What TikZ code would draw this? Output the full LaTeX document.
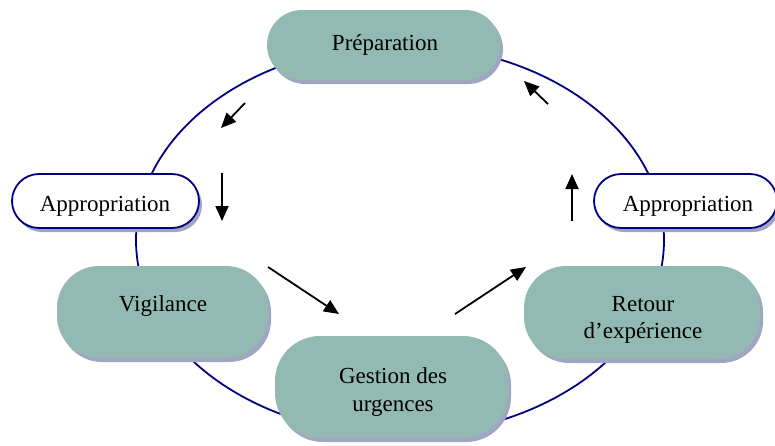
\documentclass[tikz,border=0pt]{standalone}
\usepackage{fontspec}
\setmainfont{Liberation Serif}
\usetikzlibrary{arrows.meta,shadows}
\definecolor{boxfill}{HTML}{93BAB2}
\definecolor{shadowc}{HTML}{A0A6C2}
\definecolor{ringc}{HTML}{000080}
\tikzset{
  base/.style={draw=none, inner sep=0pt,
    drop shadow={shadow xshift=3pt, shadow yshift=-4pt, fill=shadowc, opacity=1}},
  tealbox/.style={base, fill=boxfill},
  whitebox/.style={base, fill=white, draw=ringc, line width=1.8pt},
  flow/.style={line width=1.8pt, -{Triangle[length=15pt,width=13pt]}},
  ring/.style={draw=ringc, line width=1.8pt},
  txt/.style={inner sep=0pt, align=center, font=\fontsize{23}{27.5}\selectfont}
}
\begin{document}
\begin{tikzpicture}[x=1pt,y=-1pt]
\useasboundingbox (0,0) rectangle (775,445);
\clip (0,0) rectangle (775,445);
\draw[ring] (400,240) ellipse [x radius=264pt, y radius=195pt];
\node[tealbox, minimum width=233pt, minimum height=70pt, rounded corners=35pt] (prep) at (383.5,45) {};
\node[whitebox, minimum width=187pt, minimum height=54pt, rounded corners=27pt] (appl) at (105.5,201) {};
\node[whitebox, minimum width=183pt, minimum height=54pt, rounded corners=27pt] (appr) at (685.5,201) {};
\node[tealbox, minimum width=211pt, minimum height=92pt, rounded corners=42pt] (vig) at (162.5,312) {};
\node[tealbox, minimum width=233pt, minimum height=102pt, rounded corners=45pt] (gest) at (391.5,387) {};
\node[tealbox, minimum width=236pt, minimum height=93pt, rounded corners=42pt] (ret) at (642,312.5) {};
% texts
\node[txt] (prept) at (385,45) {Préparation};
\node[txt] (applt) at (105,206) {Appropriation};
\node[txt] (apprt) at (688,206) {Appropriation};
\node[txt] (vigt) at (163,306) {Vigilance};
\node[txt] (gestt) at (393,392) {Gestion des\\urgences};
\node[txt] (rett) at (643,320) {Retour\\d’expérience};
% arrows
\coordinate (a1s) at (245,103); \coordinate (a1e) at (221,128);
\coordinate (a2s) at (222,173); \coordinate (a2e) at (222,221);
\coordinate (a3s) at (268,267); \coordinate (a3e) at (339,314);
\coordinate (a4s) at (455,314); \coordinate (a4e) at (526,267);
\coordinate (a5s) at (572,221); \coordinate (a5e) at (572,174);
\coordinate (a6s) at (548,104); \coordinate (a6e) at (524,81);
\draw[flow] (a1s) -- (a1e);
\draw[flow] (a2s) -- (a2e);
\draw[flow] (a3s) -- (a3e);
\draw[flow] (a4s) -- (a4e);
\draw[flow] (a5s) -- (a5e);
\draw[flow] (a6s) -- (a6e);
\end{tikzpicture}
\end{document}
